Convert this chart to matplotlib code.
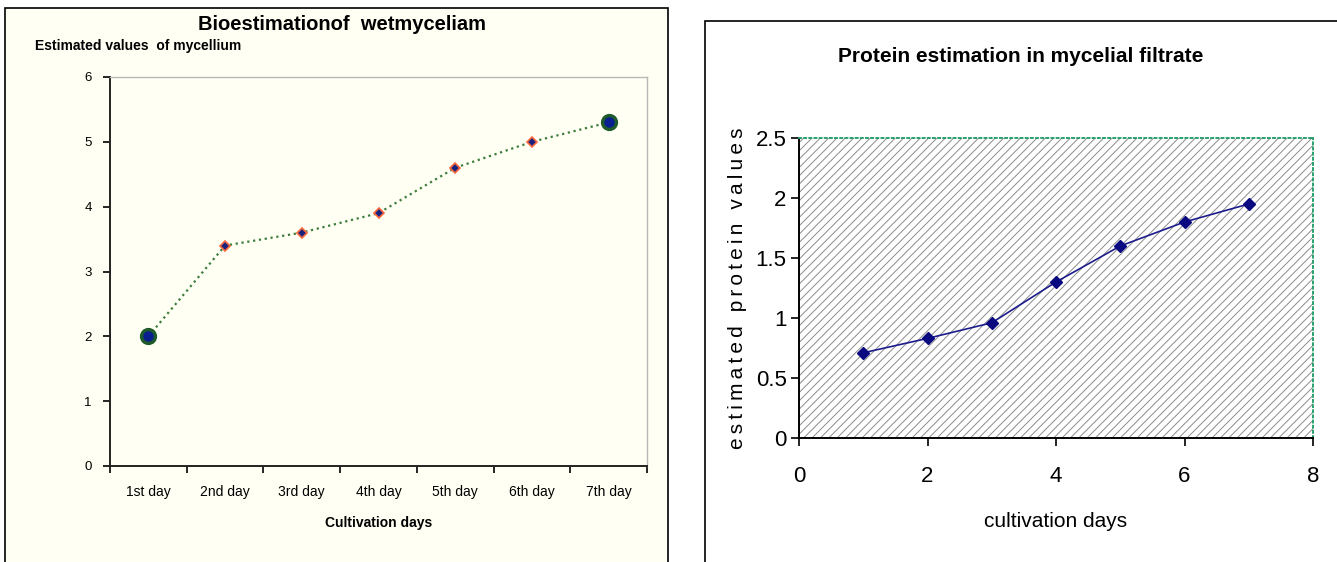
import matplotlib
matplotlib.use("Agg")
import matplotlib.pyplot as plt
from matplotlib.patches import Rectangle

# left chart data
day_labels = ["1st day", "2nd day", "3rd day", "4th day", "5th day", "6th day", "7th day"]
mycelium = [2.0, 3.4, 3.6, 3.9, 4.6, 5.0, 5.3]

# right chart data
days = [1, 2, 3, 4, 5, 6, 7]
protein = [0.71, 0.83, 0.96, 1.3, 1.6, 1.8, 1.95]

plt.rcParams['font.family'] = ["Liberation Sans", "DejaVu Sans"]
plt.rcParams['hatch.linewidth'] = 0.7

cream = "#fffff4"
fig = plt.figure(figsize=(13.37, 5.62), dpi=100)

# panel frames (behind the axes)
fig.patches.append(Rectangle((5 / 1337, -0.01), 663 / 1337, 1 - 8 / 562 + 0.01,
                             transform=fig.transFigure, facecolor=cream,
                             edgecolor="black", linewidth=1.2, zorder=-5))
fig.patches.append(Rectangle((705 / 1337, -0.01), 640 / 1337, 1 - 21 / 562 + 0.01,
                             transform=fig.transFigure, facecolor="white",
                             edgecolor="black", linewidth=1.2, zorder=-5))

############ left chart
ax1 = fig.add_axes([110 / 1337, 1 - 466 / 562, 537 / 1337, 389 / 562])
ax1.set_zorder(2)
ax1.set_facecolor(cream)
x = list(range(len(day_labels)))
ax1.plot(x, mycelium, linestyle=":", color="#3c7d3c", linewidth=1.6, zorder=2)
ax1.plot(x[1:-1], mycelium[1:-1], linestyle="none", marker="D", markersize=5,
         markerfacecolor="#1a237e", markeredgecolor="#ff6a3d", markeredgewidth=1.2, zorder=3)
ax1.plot([x[0], x[-1]], [mycelium[0], mycelium[-1]], linestyle="none", marker="o", markersize=10,
         markerfacecolor="#0a1f8f", markeredgecolor="#1e5a2a", markeredgewidth=2.4, zorder=4)
ax1.set_xlim(-0.5, len(day_labels) - 0.5)
ax1.set_ylim(0, 6)
ax1.set_yticks(range(0, 7))
ax1.set_xticks([i - 0.5 for i in range(len(day_labels) + 1)])
ax1.set_xticklabels([])
ax1.set_xticks(x, minor=True)
ax1.set_xticklabels(day_labels, minor=True)
ax1.tick_params(axis="x", which="minor", length=0, pad=14, labelsize=10)
ax1.tick_params(axis="x", which="major", direction="out", length=5, width=1.2)
ax1.tick_params(axis="y", direction="out", length=5, width=1.2, labelsize=9.5, pad=8)
for s in ["left", "bottom"]:
    ax1.spines[s].set_color("#222222")
    ax1.spines[s].set_linewidth(1.4)
for s in ["top", "right"]:
    ax1.spines[s].set_color("#b8b8b8")
    ax1.spines[s].set_linewidth(1.0)
ax1.set_xlabel("Cultivation days", fontsize=10, fontweight="bold", labelpad=12)
fig.text(342 / 1337, 1 - 25 / 562, "Bioestimationof  wetmyceliam", ha="center", va="center",
         fontsize=14.5, fontweight="bold")
fig.text(35 / 1337, 1 - 46 / 562, "Estimated values  of mycellium", ha="left", va="center",
         fontsize=10, fontweight="bold")

############ right chart
ax2 = fig.add_axes([799 / 1337, 1 - 438 / 562, 514 / 1337, 300 / 562])
ax2.set_zorder(2)
ax2.add_patch(Rectangle((0, 0), 1, 1, transform=ax2.transAxes, facecolor="white",
                        edgecolor="#8c8c8c", linewidth=0, hatch="////", zorder=0))
ax2.plot(days, protein, color="#1c1c8c", linewidth=1.2, marker="D", markersize=6,
         markerfacecolor="#0a0a80", markeredgecolor="#0a0a80", zorder=3)
ax2.set_xlim(0, 8)
ax2.set_ylim(0, 2.5)
ax2.set_xticks([0, 2, 4, 6, 8])
ax2.set_yticks([0, 0.5, 1, 1.5, 2, 2.5])
ax2.set_yticklabels(["0", "0.5", "1", "1.5", "2", "2.5"])
ax2.tick_params(axis="both", direction="out", length=6, width=1.2, labelsize=16)
ax2.tick_params(axis="x", pad=14)
ax2.tick_params(axis="y", pad=3)
for s in ["left", "bottom"]:
    ax2.spines[s].set_color("black")
    ax2.spines[s].set_linewidth(1.4)
for s in ["top", "right"]:
    ax2.spines[s].set_color("#2aa070")
    ax2.spines[s].set_linestyle(":")
    ax2.spines[s].set_linewidth(1.4)
ax2.set_xlabel("cultivation days", fontsize=15, labelpad=18)
ax2.set_ylabel("\u2009".join("estimated protein values"), fontsize=15, labelpad=6)
fig.text(1021 / 1337, 1 - 56 / 562, "Protein estimation in mycelial filtrate", ha="center",
         va="center", fontsize=15, fontweight="bold")

fig.savefig("out.png", dpi=100)
